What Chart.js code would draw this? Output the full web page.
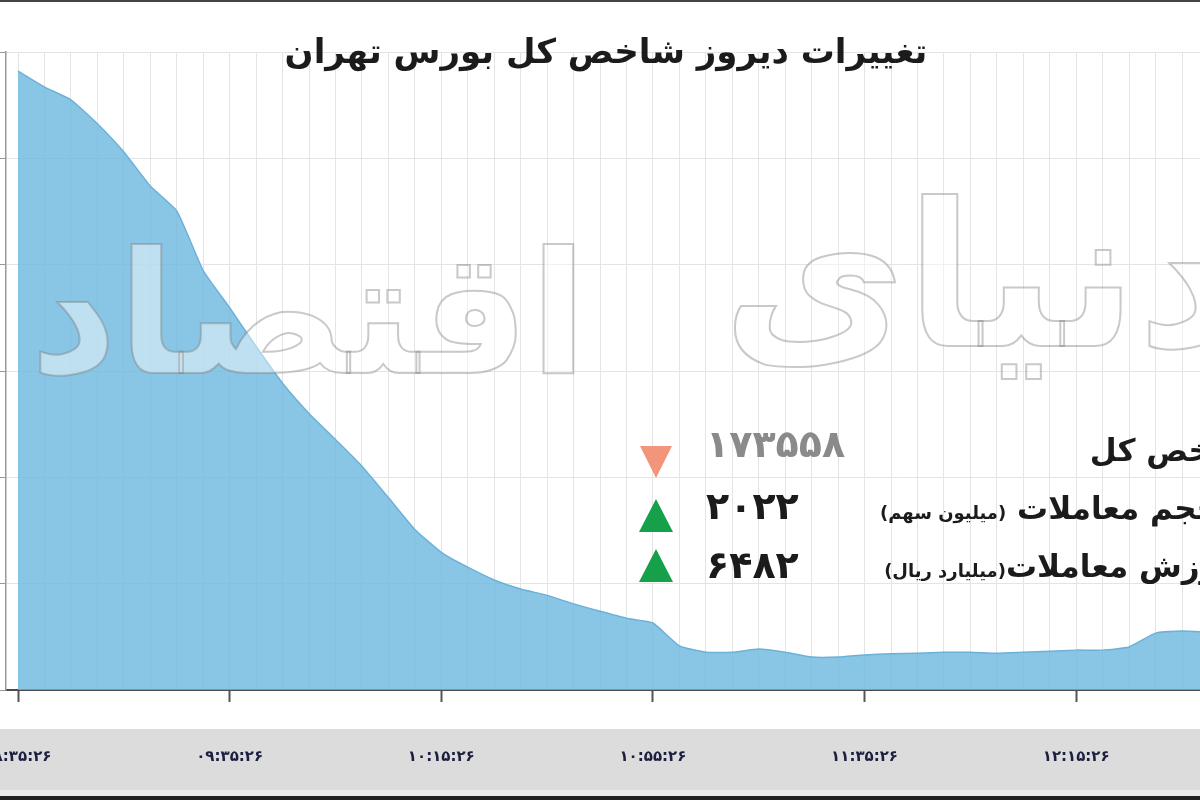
<!DOCTYPE html>
<html lang="fa">
<head>
<meta charset="utf-8">
<script src="https://cdn.jsdelivr.net/npm/chart.js@4.4.1/dist/chart.umd.min.js"></script>
<style>
  html, body { margin: 0; padding: 0; background: #fff; }
  body { width: 1200px; height: 800px; overflow: hidden; position: relative; font-family: "DejaVu Sans", sans-serif; }
  #wrap { position: absolute; left: 0; top: 0; width: 1200px; height: 800px; z-index: 2; }
  .band { position: absolute; left: 0; width: 1200px; z-index: 1; }
  .txt { position: absolute; z-index: 4; white-space: nowrap; font-weight: bold; color: #1b1b1b; }
  .rtl { direction: rtl; text-align: right; }
  .tri { position: absolute; z-index: 4; width: 0; height: 0; }
  .mark { position: absolute; z-index: 3; white-space: nowrap; direction: rtl;
          font-weight: bold; color: rgba(255,255,255,0.45);
          -webkit-text-stroke: 2px rgba(120,120,120,0.4); }
</style>
</head>
<body>
<div class="band" style="top:0;height:2px;background:#444;"></div>
<div class="band" style="top:729px;height:61px;background:#dcdcdc;"></div>
<div class="band" style="top:790px;height:6px;background:#ececec;"></div>
<div class="band" style="top:796px;height:4px;background:#222;"></div>
<div id="wrap"><canvas id="indexChart"></canvas></div>

<div class="mark" style="left:30px;top:215px;font-size:170px;">اقتصاد</div>
<div class="mark" style="right:-40px;top:160px;font-size:200px;">دنیای</div>

<div class="txt rtl" style="left:200px;width:812px;text-align:center;top:31px;font-size:34px;">تغییرات دیروز شاخص کل بورس تهران</div>

<div class="tri" style="left:640px;top:446px;border-left:16px solid transparent;border-right:16px solid transparent;border-top:32px solid #f2957a;"></div>
<div class="tri" style="left:639px;top:499px;border-left:17px solid transparent;border-right:17px solid transparent;border-bottom:33px solid #16a04a;"></div>
<div class="tri" style="left:639px;top:549px;border-left:17px solid transparent;border-right:17px solid transparent;border-bottom:33px solid #16a04a;"></div>

<div class="txt" style="left:706px;top:422px;font-size:38px;color:#8a8a8a;">۱۷۳۵۵۸</div>
<div class="txt" style="left:706px;top:484px;font-size:38px;">۲۰۲۲</div>
<div class="txt" style="left:706px;top:543px;font-size:38px;">۶۴۸۲</div>

<div class="txt rtl" style="right:-53px;top:432px;font-size:31px;">شاخص کل</div>
<div class="txt rtl" style="right:-19px;top:490px;font-size:31px;">حجم معاملات <span style="font-size:18px;">(میلیون سهم)</span></div>
<div class="txt rtl" style="right:-28px;top:548px;font-size:31px;">ارزش معاملات<span style="font-size:18px;">(میلیارد ریال)</span></div>

<script>
// minutes after the first tick (every 5 minutes)
const minutes = [0, 5, 10, 15, 20, 25, 30, 35, 40, 45, 50, 55, 60, 65, 70, 75, 80, 85, 90, 95,
  100, 105, 110, 115, 120, 125, 130, 135, 140, 145, 150, 155, 160, 165, 170, 175, 180, 185, 190, 195,
  200, 205, 210, 215, 220, 225];
const indexValues = [174614, 174584, 174560, 174515, 174462, 174398, 174351, 174239, 174169, 174096,
  174027, 173970, 173921, 173871, 173812, 173752, 173709, 173681, 173657, 173640,
  173628, 173612, 173598, 173585, 173576, 173533, 173521, 173521, 173527, 173521,
  173512, 173512, 173516, 173518, 173519, 173521, 173521, 173519, 173521, 173523,
  173525, 173525, 173531, 173557, 173561, 173559];
const tickLabels = ['۰۸:۳۵:۲۶', '۰۹:۳۵:۲۶', '۱۰:۱۵:۲۶', '۱۰:۵۵:۲۶', '۱۱:۳۵:۲۶', '۱۲:۱۵:۲۶'];
const labelStep = 40;

const points = minutes.map((m, i) => ({ x: m, y: indexValues[i] }));

const ctx = document.getElementById('indexChart').getContext('2d');
new Chart(ctx, {
    type: 'line',
    data: {
        datasets: [{
            data: points,
            borderColor: '#6db0d8',
            borderWidth: 1.5,
            backgroundColor: 'rgba(108,184,222,0.8)',
            fill: 'start',
            pointRadius: 0,
            tension: 0.15
        }]
    },
    options: {
        responsive: true,
        maintainAspectRatio: false,
        animation: false,
        layout: { autoPadding: false, padding: { top: 52, bottom: 35, left: 0, right: 0 } },
        plugins: { legend: { display: false }, tooltip: { enabled: false } },
        scales: {
            x: {
                type: 'linear',
                min: -2.27,
                max: 223.4,
                afterBuildTicks: scale => {
                    const t = [];
                    for (let v = 0; v <= 220; v += 5) t.push({ value: v });
                    scale.ticks = t;
                },
                afterFit: scale => {
                    scale.height = 75;
                    scale.paddingLeft = 0;
                    scale.paddingRight = 0;
                },
                grid: {
                    color: '#e4e4e4',
                    lineWidth: 1,
                    tickLength: 12,
                    tickColor: c => (c.tick && c.tick.value % labelStep === 0) ? '#555' : 'rgba(0,0,0,0)',
                    tickWidth: 2
                },
                border: { color: '#4a4a4a', width: 2 },
                ticks: {
                    autoSkip: false,
                    maxRotation: 0,
                    minRotation: 0,
                    padding: 46,
                    color: '#1c1f3f',
                    font: { family: 'DejaVu Sans', size: 15, weight: 'bold' },
                    callback: v => (v % labelStep === 0) ? (tickLabels[v / labelStep] || '') : ''
                }
            },
            y: {
                min: 173450,
                max: 174650,
                ticks: { stepSize: 200, display: false },
                afterFit: scale => {
                    scale.width = 6;
                    scale.paddingTop = 0;
                    scale.paddingBottom = 0;
                },
                grid: { color: '#e4e4e4', tickLength: 6, tickColor: '#999' },
                border: { color: '#999', width: 1.5 }
            }
        }
    }
});
</script>
</body>
</html>
